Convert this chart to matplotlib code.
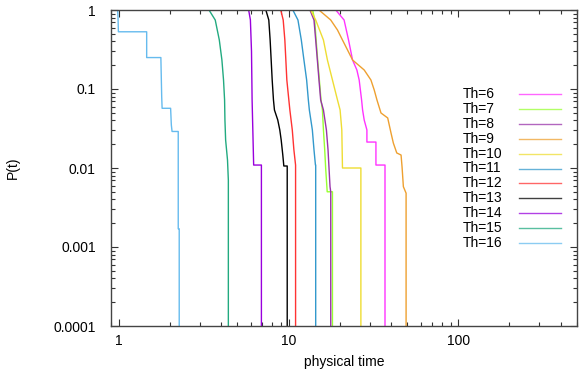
import matplotlib
matplotlib.use("Agg")
import matplotlib.pyplot as plt
from matplotlib.lines import Line2D
from matplotlib.ticker import FixedLocator, FixedFormatter, LogLocator, NullFormatter

plt.rcParams["font.family"] = ["Liberation Sans", "DejaVu Sans"]

# survival curves P(t), one pair of lists per threshold
thresholds = [6, 7, 8, 9, 10, 11, 12, 13, 14, 15, 16]

t_th6 = [18.97, 21.24, 22.56, 23.82, 25.26, 26.06, 26.93, 27.30, 27.90, 28.94, 28.94, 32.71, 32.71, 36.99]
p_th6 = [1.0, 0.747, 0.417, 0.233, 0.174, 0.130, 0.0726, 0.0542, 0.0405, 0.0303, 0.0213, 0.0213, 0.0109, 0.0109]

t_th7 = [13.87, 14.25, 14.54, 14.84, 15.19, 15.53, 15.83, 16.05, 16.33, 16.55, 16.89, 18.14]
p_th7 = [1.0, 0.747, 0.417, 0.233, 0.130, 0.0726, 0.0542, 0.0303, 0.017, 0.0098, 0.005, 0.005]

t_th8 = [13.37, 14.12, 14.45, 14.78, 15.11, 15.46, 16.05, 16.71, 17.08, 17.32, 17.55, 17.72]
p_th8 = [1.0, 0.747, 0.417, 0.233, 0.130, 0.0726, 0.0542, 0.0303, 0.017, 0.0098, 0.0058, 0.005]

t_th9 = [15.11, 17.72, 19.42, 20.78, 22.25, 23.82, 27.90, 30.56, 31.97, 33.17, 35.03, 38.37,
         40.14, 41.42, 43.39, 45.99, 46.62, 47.46, 49.24]
p_th9 = [1.0, 0.747, 0.558, 0.417, 0.312, 0.233, 0.174, 0.130, 0.097, 0.0726, 0.0497, 0.043,
         0.0277, 0.0207, 0.0155, 0.0146, 0.0103, 0.0058, 0.0048]

t_th10 = [13.5, 14.45, 16.05, 16.94, 18.14, 19.42, 20.12, 20.59, 20.78, 26.67]
p_th10 = [1.0, 0.747, 0.417, 0.233, 0.130, 0.0726, 0.0542, 0.0303, 0.01, 0.01]

t_th11 = [10.6, 11.36, 11.89, 12.32, 12.78, 13.08, 13.26, 13.81, 14.12, 14.40, 14.45]
p_th11 = [1.0, 0.747, 0.417, 0.233, 0.130, 0.0726, 0.0542, 0.0303, 0.017, 0.0109, 0.0109]

t_th12 = [9.0, 9.30, 9.51, 9.64, 9.77, 10.04, 10.18, 10.52, 10.75, 11.0]
p_th12 = [1.0, 0.747, 0.417, 0.233, 0.130, 0.0726, 0.0542, 0.0303, 0.017, 0.0109]

t_th13 = [7.35, 7.65, 7.79, 7.90, 8.01, 8.15, 8.26, 8.64, 8.88, 9.05, 9.25, 9.38, 9.82]
p_th13 = [1.0, 0.747, 0.417, 0.233, 0.130, 0.0726, 0.0542, 0.0405, 0.0303, 0.0226, 0.0146, 0.0106, 0.0106]

t_th14 = [5.82, 5.96, 6.05, 6.10, 6.18, 6.23, 6.92]
p_th14 = [1.0, 0.75, 0.3, 0.0726, 0.0226, 0.0109, 0.0109]

t_th15 = [3.40, 3.70, 3.91, 4.05, 4.14, 4.20, 4.22, 4.26, 4.37, 4.42]
p_th15 = [1.0, 0.747, 0.417, 0.233, 0.130, 0.0726, 0.0405, 0.0226, 0.0126, 0.007]

t_th16 = [0.985, 0.99, 0.995, 1.46, 1.46, 1.77, 1.79, 1.80, 2.02, 2.04, 2.06, 2.24, 2.24, 2.27]
p_th16 = [1.0, 0.8, 0.53, 0.53, 0.25, 0.25, 0.08, 0.057, 0.057, 0.035, 0.029, 0.029, 0.0017, 0.0017]

curves_t = [t_th6, t_th7, t_th8, t_th9, t_th10, t_th11, t_th12, t_th13, t_th14, t_th15, t_th16]
curves_p = [p_th6, p_th7, p_th8, p_th9, p_th10, p_th11, p_th12, p_th13, p_th14, p_th15, p_th16]

colors = ["#ff33ff", "#99ff33", "#9933aa", "#eea030", "#eedd33", "#3399cc",
          "#ff3333", "#000000", "#9900dd", "#22aa80", "#66bbee"]

P_ZERO = 1e-6  # stands in for P=0 on the log axis

W, H = 579, 374
fig = plt.figure(figsize=(W / 100, H / 100), dpi=100)
ax = fig.add_axes([111 / W, 1 - 326 / H, (577 - 111) / W, (326 - 10) / H])

for th, t, p, c in zip(thresholds, curves_t, curves_p, colors):
    ax.plot(t + [t[-1]], p + [P_ZERO], color=c, lw=1.0)

ax.set_xscale("log")
ax.set_yscale("log")
ax.set_xlim(0.9, 500)
ax.set_ylim(1e-4, 1)

ax.xaxis.set_major_locator(FixedLocator([1, 10, 100]))
ax.xaxis.set_major_formatter(FixedFormatter(["1", "10", "100"]))
ax.xaxis.set_minor_locator(LogLocator(base=10, subs=range(2, 10)))
ax.xaxis.set_minor_formatter(NullFormatter())
ax.yaxis.set_major_locator(FixedLocator([1e-4, 1e-3, 1e-2, 1e-1, 1]))
ax.yaxis.set_major_formatter(FixedFormatter(["0.0001", "0.001", "0.01", "0.1", "1"]))
ax.yaxis.set_minor_locator(LogLocator(base=10, subs=range(2, 10)))
ax.yaxis.set_minor_formatter(NullFormatter())

ax.tick_params(which="both", direction="in", top=True, right=True, labelsize=10)
ax.tick_params(axis="y", pad=11)
ax.tick_params(axis="x", pad=6)
ax.tick_params(which="major", length=5, width=0.8, color="#333333")
ax.tick_params(which="minor", length=3, width=0.8, color="#333333")
for s in ax.spines.values():
    s.set_linewidth(1.0)
    s.set_color("#444444")

ax.set_xlabel("physical time", fontsize=10, labelpad=5)
ax.set_ylabel("P(t)", fontsize=10)
ax.yaxis.set_label_coords((20 - 111) / 466, 0.5)

# gnuplot-style key: left-aligned labels, sample line to the right
for i, (th, c) in enumerate(zip(thresholds, colors)):
    yk = 1 - (94 + 14.9 * i) / H
    fig.text(463 / W, yk, f"Th={th}", fontsize=10, ha="left", va="center")
    fig.add_artist(Line2D([519 / W, 561 / W], [yk, yk], color=c, lw=1.0,
                          alpha=0.75, transform=fig.transFigure))

fig.savefig("out.png", dpi=100)
